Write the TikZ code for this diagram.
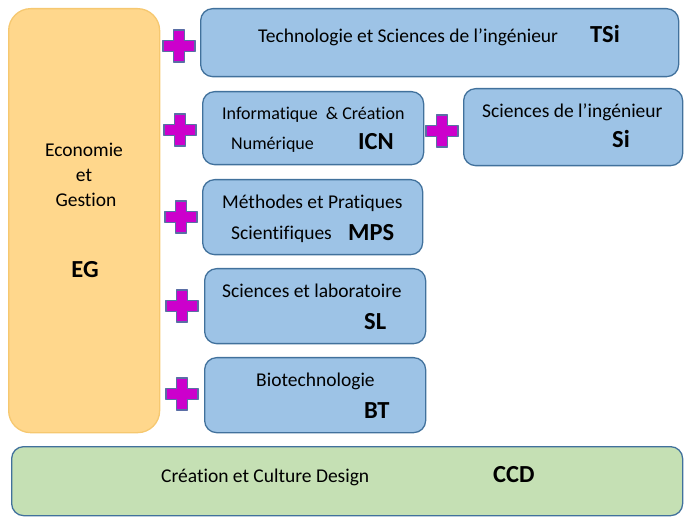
\documentclass[tikz,border=0pt]{standalone}
\usepackage{fontspec}
\setmainfont{Carlito}[Ligatures=NoCommon]
\definecolor{boxblue}{RGB}{157,195,230}
\definecolor{boxedge}{RGB}{65,113,156}
\definecolor{egfill}{RGB}{255,215,140}
\definecolor{egedge}{RGB}{246,200,112}
\definecolor{ccdfill}{RGB}{197,224,180}
\definecolor{plusfill}{RGB}{204,0,204}
\definecolor{plusedge}{RGB}{90,110,165}
\tikzset{
  box/.style={line width=1.3pt, rounded corners=12pt, anchor=north west, inner sep=0pt},
  spebox/.style={box, draw=boxedge, fill=boxblue},
  txt/.style={inner sep=0pt, anchor=base west, font=\fontsize{19.5}{23}\selectfont},
  abbr/.style={inner sep=0pt, anchor=base west, font=\fontsize{24.5}{28}\selectfont\bfseries},
  plussign/.pic={
    \filldraw[fill=plusfill, draw=plusedge, line width=1.6pt]
      (-5.5,-16) -- (5.5,-16) -- (5.5,-5.5) -- (16,-5.5) -- (16,5.5) --
      (5.5,5.5) -- (5.5,16) -- (-5.5,16) -- (-5.5,5.5) -- (-16,5.5) --
      (-16,-5.5) -- (-5.5,-5.5) -- cycle;
  }
}
\begin{document}
\begin{tikzpicture}[x=1pt, y=-1pt, line join=round]
  \useasboundingbox (0,0) rectangle (691,521);
  % left column and bottom row
  \node[box, draw=egedge, fill=egfill, rounded corners=22pt,
    minimum width=151pt, minimum height=424pt] (eg) at (8,8) {};
  \node[box, draw=boxedge, fill=ccdfill,
    minimum width=671pt, minimum height=69pt] (ccd) at (11,446) {};
  % specialities
  \node[spebox, minimum width=478pt, minimum height=68pt] (tsi) at (200,8) {};
  \node[spebox, minimum width=221pt, minimum height=73pt] (icn) at (202,91) {};
  \node[spebox, minimum width=219pt, minimum height=77pt] (si) at (463,88) {};
  \node[spebox, minimum width=220pt, minimum height=75pt] (mps) at (202,179) {};
  \node[spebox, minimum width=221pt, minimum height=75pt] (sl) at (204,268) {};
  \node[spebox, minimum width=221pt, minimum height=75pt] (bt) at (204,357) {};
  % plus signs
  \foreach \px/\py in {179/46, 180/130, 181/217, 182/306, 182/394, 442/131}
    \pic at (\px,\py) {plussign};
  % texts
  \node[txt, anchor=base] (egtext1) at (84,157) {Economie};
  \node[txt, anchor=base] (egtext2) at (84,182) {et};
  \node[txt, anchor=base] (egtext3) at (86,207) {Gestion};
  \node[abbr, anchor=base] (egabbr) at (85,278) {EG};
  \node[txt] (tsitext) at (258,43) {Technologie et Sciences de l’ingénieur};
  \node[abbr] (tsiabbr) at (590,43) {TSi};
  \node[txt, font=\fontsize{18}{22}\selectfont] (icntext1) at (222,120) {Informatique~~\& Création};
  \node[txt, font=\fontsize{18}{22}\selectfont] (icntext2) at (231,150) {Numérique};
  \node[abbr] (icnabbr) at (358,150) {ICN};
  \node[txt] (sitext) at (482,118) {Sciences de l’ingénieur};
  \node[abbr] (siabbr) at (612,148) {Si};
  \node[txt] (mpstext1) at (222,209) {Méthodes et Pratiques};
  \node[txt] (mpstext2) at (231,240) {Scientifiques};
  \node[abbr] (mpsabbr) at (348,241) {MPS};
  \node[txt] (sltext) at (222,298) {Sciences et laboratoire};
  \node[abbr] (slabbr) at (364,330) {SL};
  \node[txt] (bttext) at (256,387) {Biotechnologie};
  \node[abbr] (btabbr) at (364,418) {BT};
  \node[txt] (ccdtext) at (161,482) {Création et Culture Design};
  \node[abbr] (ccdabbr) at (493,482) {CCD};
\end{tikzpicture}
\end{document}
